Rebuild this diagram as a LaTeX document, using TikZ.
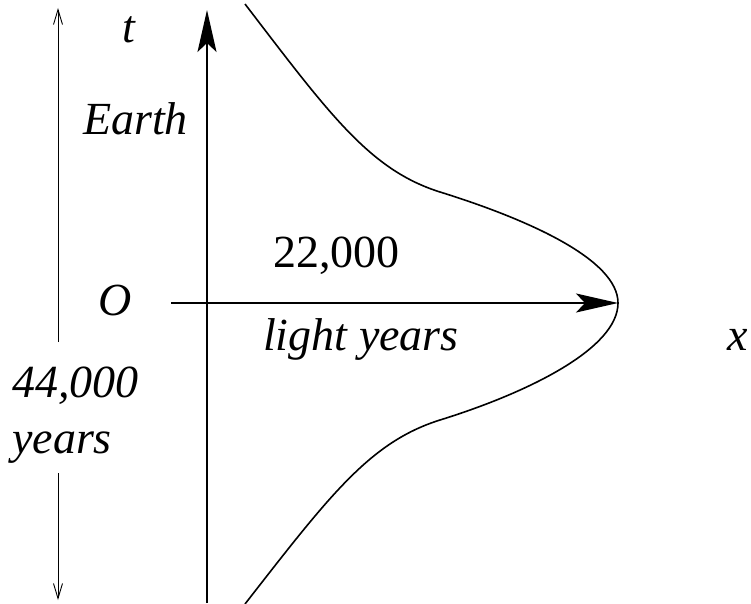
\documentclass[tikz,border=0pt]{standalone}
\usepackage{fontspec}
\setmainfont{Liberation Serif}
\usepackage{tikz}
\usetikzlibrary{arrows.meta, positioning}

\begin{document}
\begin{tikzpicture}[
    x=1pt, y=-1pt,
    font=\fontsize{46}{50}\selectfont,
    lbl/.style={inner sep=0pt, anchor=base west},
    axis/.style={line width=2pt, -{Stealth[length=42pt, width=19pt, inset=9pt]}},
    span/.style={line width=0.9pt, -{Straight Barb[length=15pt, width=9pt]}},
    worldline/.style={line width=1.6pt}
]
\useasboundingbox (0,0) rectangle (751,604);
% coordinates
\coordinate (tbot) at (207,603);
\coordinate (ttop) at (207,10);
\coordinate (xleft) at (171,303);
\coordinate (xright) at (618,303);
\coordinate (spantop) at (58,8);
\coordinate (spanup) at (58,342);
\coordinate (spandown) at (58,473);
\coordinate (spanbot) at (58,600);
\coordinate (depart) at (245,4);
\coordinate (slowup) at (440,192);
\coordinate (turn) at (618,303);
\coordinate (slowdown) at (440,420);
\coordinate (arrive) at (245,604);
% labels
\node[lbl] (tlabel) at (122,43) {\textit{t}};
\node[lbl] (earth) at (83,135) {\textit{Earth}};
\node[lbl] (dist) at (273,267) {22,000};
\node[lbl] (origin) at (98,315) {\textit{O}};
\node[lbl] (ly) at (263,350) {\textit{light years}};
\node[lbl] (xlabel) at (727,350) {\textit{x}};
\node[lbl] (dur) at (12,397) {\textit{44,000}};
\node[lbl] (yrs) at (12,453) {\textit{years}};
% axes
\draw[axis] (tbot) -- (ttop);
\draw[axis] (xleft) -- (xright);
\draw[span] (spanup) -- (spantop);
\draw[span] (spandown) -- (spanbot);
% path of the traveller
\draw[worldline] (depart) .. controls (330,115) and (370,170) .. (slowup)
  .. controls (530,220) and (618,260) .. (turn)
  .. controls (618,348) and (530,392) .. (slowdown)
  .. controls (370,442) and (330,495) .. (arrive);
\end{tikzpicture}
\end{document}
